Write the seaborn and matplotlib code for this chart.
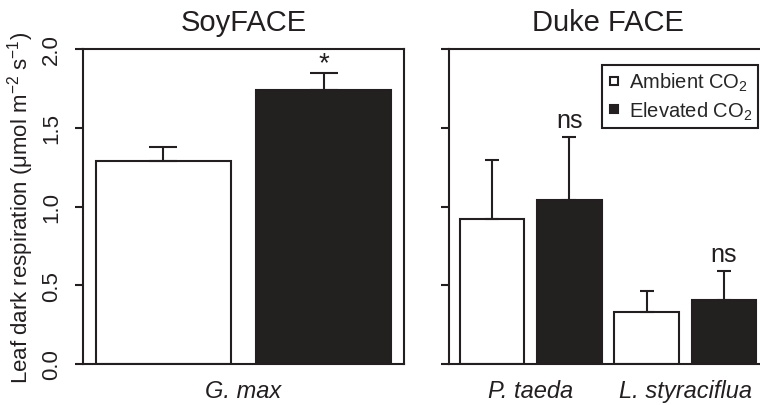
import matplotlib
matplotlib.use("Agg")
import matplotlib.pyplot as plt
from matplotlib.lines import Line2D
import seaborn as sns
import pandas as pd

# Leaf dark respiration, means and upper standard errors
sites = ["SoyFACE", "Duke FACE"]
soy_species = ["G. max"]
duke_species = ["P. taeda", "L. styraciflua"]
treatments = ["Ambient", "Elevated"]

soy_ambient = [1.29]
soy_elevated = [1.74]
soy_ambient_err = [0.09]
soy_elevated_err = [0.105]
soy_marks = ["*"]

duke_ambient = [0.92, 0.33]
duke_elevated = [1.04, 0.405]
duke_ambient_err = [0.375, 0.135]
duke_elevated_err = [0.40, 0.185]
duke_marks = ["ns", "ns"]

y_ticks = [0.0, 0.5, 1.0, 1.5, 2.0]
y_tick_labels = ["0.0", "0.5", "1.0", "1.5", "2.0"]
legend_labels = ["Ambient CO$_2$", "Elevated CO$_2$"]

INK = "#231f20"
palette = {"Ambient": "white", "Elevated": INK}

sns.set_style("ticks")
plt.rcParams["font.family"] = ["Liberation Sans", "DejaVu Sans"]
plt.rcParams["mathtext.fontset"] = "custom"
plt.rcParams["mathtext.rm"] = "Liberation Sans"
plt.rcParams["mathtext.it"] = "Liberation Sans:italic"
plt.rcParams["axes.linewidth"] = 1.5
plt.rcParams["axes.edgecolor"] = INK


def frame(species, amb, ele):
    return pd.DataFrame({
        "species": species * 2,
        "treatment": ["Ambient"] * len(species) + ["Elevated"] * len(species),
        "value": list(amb) + list(ele),
    })


def draw_panel(ax, species, amb, ele, amb_err, ele_err, marks, capsize, xlim, title):
    df = frame(species, amb, ele)
    sns.barplot(data=df, x="species", y="value", hue="treatment",
                order=species, hue_order=treatments, palette=palette,
                edgecolor=INK, linewidth=1.5, width=1.0, gap=0.16,
                errorbar=None, legend=False, ax=ax, zorder=2)
    errs = {"Ambient": amb_err, "Elevated": ele_err}
    for level, cont in zip(treatments, ax.containers):
        for i, bar in enumerate(cont.patches):
            xc = bar.get_x() + bar.get_width() / 2
            h = bar.get_height()
            e = errs[level][i]
            ax.errorbar([xc], [h], yerr=[[0], [e]], fmt="none", ecolor=INK,
                        elinewidth=1.5, capsize=capsize, capthick=1.5, zorder=3)
            if level == "Elevated":
                mark = marks[i]
                if mark == "*":
                    ax.text(xc, h + e + 0.065, mark, ha="center", va="center",
                            fontsize=20, color=INK)
                else:
                    ax.text(xc, h + e + 0.03, mark, ha="center", va="bottom",
                            fontsize=18, color=INK)
    ax.set_xlim(*xlim)
    ax.set_ylim(0, 2.0)
    ax.set_yticks(y_ticks)
    ax.set_xlabel("")
    ax.set_ylabel("")
    ax.set_title(title, fontsize=21, pad=14, color=INK)
    ax.tick_params(axis="y", direction="out", length=6, width=1.5, color=INK)
    ax.tick_params(axis="x", length=0, pad=11)
    for lab in ax.get_xticklabels():
        lab.set_fontstyle("italic")
        lab.set_fontsize(17)
        lab.set_color(INK)
    for s in ax.spines.values():
        s.set_visible(True)
        s.set_linewidth(1.5)
        s.set_color(INK)


fig = plt.figure(figsize=(7.6, 4.06), dpi=100)
W, H = 760, 406
ax1 = fig.add_axes([83 / W, 41 / H, 321 / W, 315 / H])
ax2 = fig.add_axes([449 / W, 41 / H, 318 / W, 315 / H])

draw_panel(ax1, soy_species, soy_ambient, soy_elevated, soy_ambient_err,
           soy_elevated_err, soy_marks, 10, (-0.5, 0.5), sites[0])
draw_panel(ax2, duke_species, duke_ambient, duke_elevated, duke_ambient_err,
           duke_elevated_err, duke_marks, 5, (-0.528, 1.528), sites[1])

ax1.set_yticklabels(y_tick_labels, rotation=90, va="center", fontsize=16, color=INK)
ax1.tick_params(axis="y", pad=9)
ax2.set_yticklabels([])
ax1.set_ylabel("Leaf dark respiration (\u03bcmol m$^{-2}$ s$^{-1}$)",
               fontsize=16, color=INK, labelpad=4)

handles = [
    Line2D([], [], marker="s", linestyle="none", markersize=6,
           markerfacecolor="white", markeredgecolor=INK, markeredgewidth=1.5),
    Line2D([], [], marker="s", linestyle="none", markersize=6,
           markerfacecolor=INK, markeredgecolor=INK, markeredgewidth=1.5),
]
leg = fig.legend(handles, legend_labels, loc="upper right",
                 bbox_to_anchor=(758 / W, 1 - 66 / H), fontsize=14.5,
                 frameon=True, fancybox=False, framealpha=1,
                 handlelength=0.6, handletextpad=0.4, borderpad=0.3,
                 labelspacing=0.3, borderaxespad=0)
leg.get_frame().set_edgecolor(INK)
leg.get_frame().set_linewidth(1.5)

fig.savefig("out.png", dpi=100)
